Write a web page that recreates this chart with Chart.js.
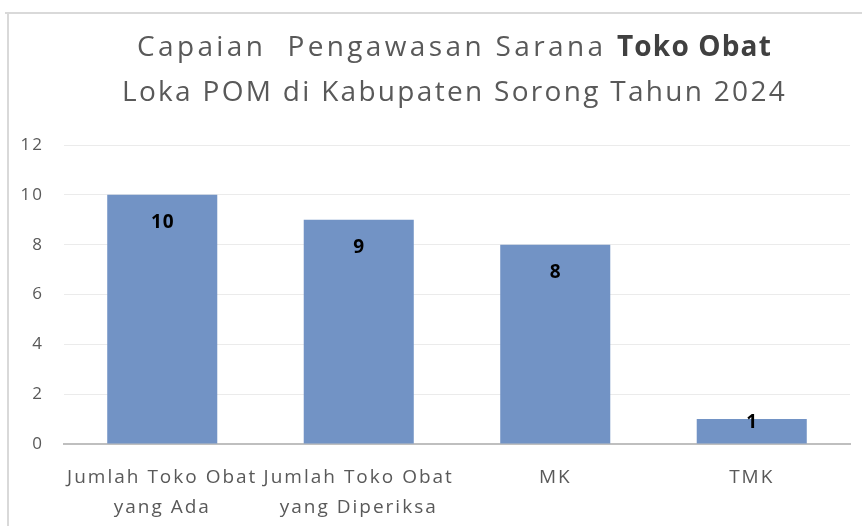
<!DOCTYPE html>
<html>
<head>
<meta charset="utf-8">
<script src="https://cdn.jsdelivr.net/npm/chart.js@4.4.0/dist/chart.umd.min.js"></script>
<style>
  html, body { margin: 0; padding: 0; background: #fff; }
  #wrap { width: 862px; height: 526px; position: relative; }
</style>
</head>
<body>
<div id="wrap"><canvas id="grafik"></canvas></div>
<script>
// data dari gambar
const kategori = [
    ["Jumlah Toko Obat", "yang Ada"],
    ["Jumlah Toko Obat", "yang Diperiksa"],
    ["MK"],
    ["TMK"]
];
const nilai = [10, 9, 8, 1];
const judulBaris1 = ["Capaian  Pengawasan Sarana ", "Toko Obat"];
const judulBaris2 = "Loka POM di Kabupaten Sorong Tahun 2024";

const FONT = "'Open Sans', 'Noto Sans', sans-serif";

// teks judul dengan spasi huruf agar lebarnya mirip font aslinya (Poppins)
function tulisLebar(c, teks, x, y, lebarTarget) {
    c.letterSpacing = '0px';
    const w = c.measureText(teks).width;
    const sp = (lebarTarget - w) / teks.length;
    c.letterSpacing = sp + 'px';
    c.fillText(teks, x, y);
    return lebarTarget;
}

// bingkai + judul
const pluginBingkai = {
    id: 'bingkai',
    beforeDraw(chart) {
        const c = chart.ctx;
        c.save();
        c.strokeStyle = '#d9d9d9';
        c.lineWidth = 2;
        c.beginPath();
        c.moveTo(5, 13);
        c.lineTo(chart.width, 13);
        c.moveTo(8, 13);
        c.lineTo(8, chart.height);
        c.stroke();
        c.restore();
        // spasi huruf untuk label sumbu
        c.letterSpacing = '2px';
    },
    afterDraw(chart) {
        const c = chart.ctx;
        c.save();
        c.textBaseline = 'middle';
        c.textAlign = 'left';
        // baris 1: bagian biasa + bagian tebal
        c.font = `400 28px ${FONT}`;
        c.fillStyle = '#595959';
        tulisLebar(c, judulBaris1[0], 137, 48, 480);
        c.font = `700 28px ${FONT}`;
        c.fillStyle = '#404040';
        tulisLebar(c, judulBaris1[1], 617, 48, 155);
        // baris 2
        c.font = `400 28px ${FONT}`;
        c.fillStyle = '#595959';
        tulisLebar(c, judulBaris2, 122, 93, 665);
        c.restore();
    }
};

// label nilai di dalam batang
const pluginLabel = {
    id: 'labelNilai',
    afterDatasetsDraw(chart) {
        const c = chart.ctx;
        const meta = chart.getDatasetMeta(0);
        c.save();
        c.letterSpacing = '1px';
        c.font = `700 19px ${FONT}`;
        c.fillStyle = '#000';
        c.textAlign = 'center';
        c.textBaseline = 'middle';
        meta.data.forEach((bar, i) => {
            const y = Math.min(bar.y + 28, bar.base - 21);
            c.fillText(String(nilai[i]), bar.x + 0.5, y);
        });
        c.restore();
    }
};

const ctx = document.getElementById('grafik').getContext('2d');
new Chart(ctx, {
    type: 'bar',
    data: {
        labels: kategori,
        datasets: [{
            data: nilai,
            backgroundColor: '#7293c5',
            borderWidth: 0,
            categoryPercentage: 1,
            barPercentage: 0.56
        }]
    },
    options: {
        responsive: true,
        maintainAspectRatio: false,
        animation: false,
        layout: { padding: { top: 145, right: 12, left: 0, bottom: 0 } },
        plugins: {
            legend: { display: false },
            tooltip: { enabled: false }
        },
        scales: {
            x: {
                grid: { display: false, drawTicks: false },
                border: { display: true, color: '#bfbfbf', width: 2 },
                ticks: {
                    color: '#595959',
                    font: { family: FONT, size: 19, lineHeight: 1.58 },
                    padding: 19,
                    maxRotation: 0,
                    autoSkip: false
                },
                afterFit(scale) { scale.height = 82; }
            },
            y: {
                min: 0,
                max: 12,
                ticks: {
                    stepSize: 2,
                    color: '#595959',
                    font: { family: FONT, size: 17 },
                    padding: 20
                },
                grid: { color: '#ebebeb', drawTicks: false },
                border: { display: false },
                afterFit(scale) { scale.width = 64; }
            }
        }
    },
    plugins: [pluginBingkai, pluginLabel]
});
</script>
</body>
</html>
